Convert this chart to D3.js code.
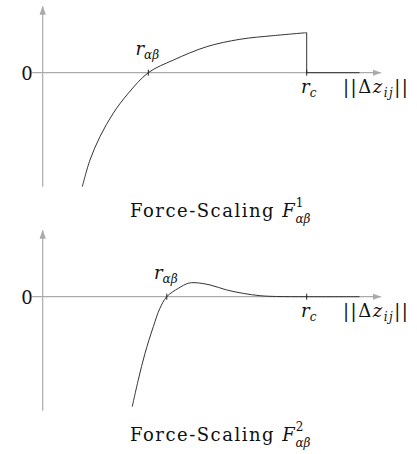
<!DOCTYPE html>
<html>
<head>
<meta charset="utf-8">
<script src="https://cdn.jsdelivr.net/npm/d3@7"></script>
<style>
  body { margin: 0; background: #fff; }
  text { font-family: "DejaVu Serif", "Liberation Serif", serif; fill: #111; }
</style>
</head>
<body>
<div class="board"></div>
<script>
// distance in units of r_c, force in arbitrary units
let f1X = [0.15, 0.179, 0.217, 0.267, 0.324, 0.4, 0.495, 0.621, 0.747, 0.873, 1.0];
let f1Y = [-1.0, -0.766, -0.561, -0.356, -0.181, 0, 0.111, 0.228, 0.293, 0.325, 0.351];

let f2X = [0.339, 0.362, 0.3875, 0.419, 0.444, 0.47, 0.514, 0.552, 0.577, 0.634, 0.697, 0.76, 0.823, 0.886, 1.0, 1.2];
let f2Y = [-0.965, -0.73, -0.497, -0.263, -0.102, 0, 0.074, 0.118, 0.123, 0.103, 0.059, 0.029, 0.0088, 0.0018, 0, 0];

let rAlphaBeta = [0.4, 0.47];
let rCut = 1.0;
let tailEnd = 1.2;

let svg = d3.select('.board').append('svg')
    .attr('width', 417)
    .attr('height', 454);

let x = d3.scaleLinear().domain([0, 1]).range([42.7, 306.7]);

let defs = svg.append('defs');
defs.append('marker')
    .attr('id', 'arrow')
    .attr('viewBox', '0 0 10 10')
    .attr('refX', 9).attr('refY', 5)
    .attr('markerWidth', 9).attr('markerHeight', 9)
    .attr('markerUnits', 'userSpaceOnUse')
    .attr('orient', 'auto')
  .append('path')
    .attr('d', 'M0,1.5 L10,5 L0,8.5 Z')
    .attr('fill', '#aaa');

let panel = function(top, xs, ys, rab, cut, title, sup) {
  let g = svg.append('g').attr('transform', `translate(0,${top})`);
  let y = d3.scaleLinear().domain([-1, 0]).range([186.7, 72.7]);

  // axes
  g.append('line')
      .attr('x1', x(0)).attr('x2', x(0))
      .attr('y1', y(-1)).attr('y2', y(0.58))
      .attr('stroke', '#aaa').attr('stroke-width', 1.2)
      .attr('marker-end', 'url(#arrow)');
  g.append('line')
      .attr('x1', x(-0.04)).attr('x2', x(1.28))
      .attr('y1', y(0)).attr('y2', y(0))
      .attr('stroke', '#aaa').attr('stroke-width', 1.2)
      .attr('marker-end', 'url(#arrow)');

  // curve
  let pts = xs.map((d, i) => [d, ys[i]]);
  let line = d3.line()
      .x(d => x(d[0]))
      .y(d => y(d[1]))
      .curve(d3.curveCatmullRom.alpha(0.5));
  g.append('path')
      .attr('d', line(pts))
      .attr('fill', 'none')
      .attr('stroke', '#333')
      .attr('stroke-width', 1);

  if (cut) {
    let last = pts[pts.length - 1];
    g.append('path')
        .attr('d', d3.line().x(d => x(d[0])).y(d => y(d[1]))([last, [rCut, 0], [tailEnd, 0]]))
        .attr('fill', 'none')
        .attr('stroke', '#333')
        .attr('stroke-width', 1);
  }

  // ticks
  [rab, rCut].forEach(v => {
    g.append('line')
        .attr('x1', x(v)).attr('x2', x(v))
        .attr('y1', y(0) - 3).attr('y2', y(0) + 3)
        .attr('stroke', '#222').attr('stroke-width', 1);
  });

  // labels
  g.append('text')
      .attr('x', 27).attr('y', y(0) + 7)
      .attr('text-anchor', 'middle')
      .style('font-size', '18px')
      .text('0');

  let ra = g.append('text')
      .attr('x', x(rab) - 1).attr('y', y(0) - 18)
      .attr('text-anchor', 'middle')
      .style('font-size', '18px');
  ra.append('tspan').style('font-style', 'italic').text('r');
  ra.append('tspan').attr('dy', 4).style('font-size', '12px').style('font-style', 'italic').text('αβ');

  let rc = g.append('text')
      .attr('x', x(rCut) + 2).attr('y', y(0) + 20)
      .attr('text-anchor', 'middle')
      .style('font-size', '18px');
  rc.append('tspan').style('font-style', 'italic').text('r');
  rc.append('tspan').attr('dy', 4).style('font-size', '12px').style('font-style', 'italic').text('c');

  let dz = g.append('text')
      .attr('x', 343).attr('y', y(0) + 20)
      .style('font-size', '18px')
      .style('letter-spacing', '1.5px');
  dz.append('tspan').text('||Δ');
  dz.append('tspan').style('font-style', 'italic').text('z');
  dz.append('tspan').attr('dy', 4).style('font-size', '12px').style('font-style', 'italic').text('ij');
  dz.append('tspan').attr('dy', -4).text('||');

  let t = g.append('text')
      .attr('x', 130).attr('y', 217)
      .style('font-size', '18px');
  t.append('tspan').style('letter-spacing', '1.5px').text(title + ' ');
  t.append('tspan').style('font-style', 'italic').text('F');
  t.append('tspan').attr('dx', 1).attr('dy', -10).style('font-size', '12px').text(sup);
  t.append('tspan').attr('dx', -8).attr('dy', 16).style('font-size', '12px').style('font-style', 'italic').text('αβ');
};

panel(0, f1X, f1Y, rAlphaBeta[0], true, 'Force-Scaling', '1');
panel(224, f2X, f2Y, rAlphaBeta[1], false, 'Force-Scaling', '2');
</script>
</body>
</html>
